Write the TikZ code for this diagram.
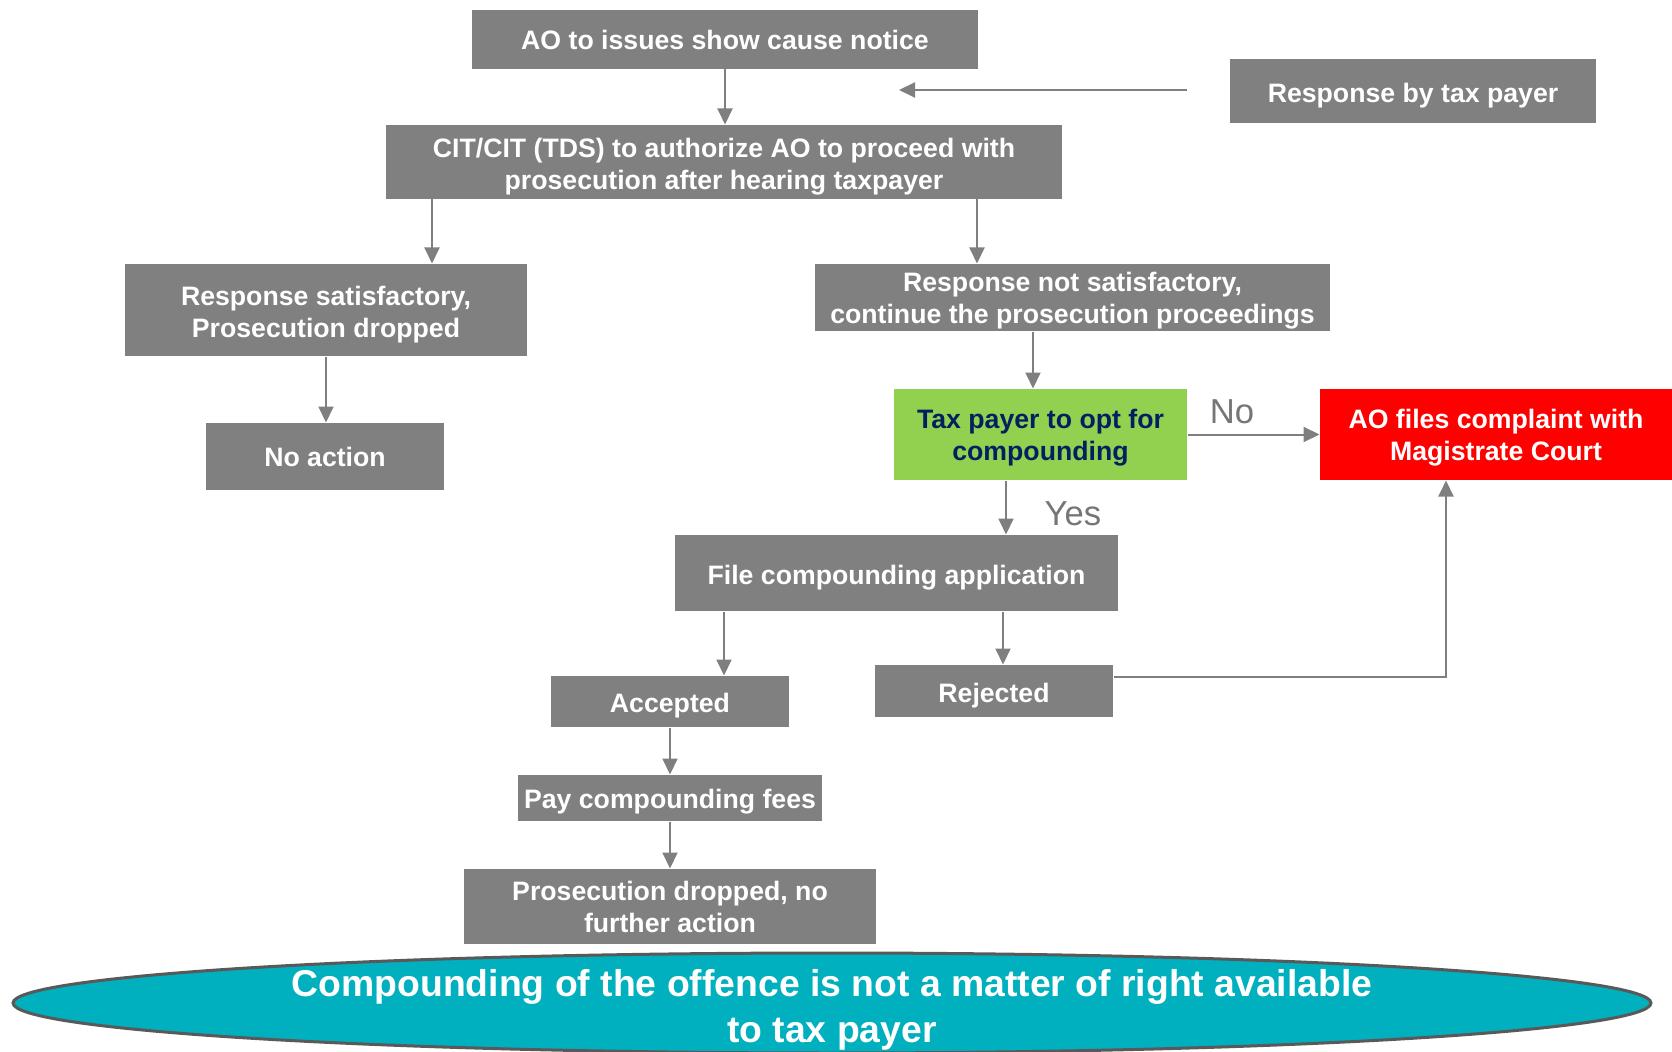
\documentclass[tikz,border=0pt]{standalone}
\usepackage{fontspec}
\setmainfont{Liberation Sans}
\usetikzlibrary{arrows.meta}

\definecolor{boxgray}{RGB}{128,128,128}
\definecolor{linegray}{RGB}{127,127,127}
\definecolor{optgreen}{RGB}{146,208,80}
\definecolor{optnavy}{RGB}{0,32,96}
\definecolor{courtred}{RGB}{255,0,0}
\definecolor{notecyan}{RGB}{0,176,190}
\definecolor{noteedge}{RGB}{89,89,89}
\definecolor{lblgray}{RGB}{118,118,118}

% strut that pushes the first line of a box down a little
\newcommand{\topstrut}[1][21.4pt]{\rule{0pt}{#1}}

\tikzset{every picture/.style={line width=0.75pt}}
\tikzset{
  box/.style={fill=boxgray, text=white, font=\fontsize{20}{24}\selectfont\bfseries, align=center, inner sep=0pt},
  arr/.style={draw=linegray, line width=1.5pt, -{Triangle[length=12pt,width=11.25pt]}},
  lbl/.style={text=lblgray, font=\fontsize{26}{31}\selectfont},
  note/.style={fill=notecyan, draw=noteedge, line width=2.25pt},
  notetext/.style={text=white, font=\fontsize{28}{34}\selectfont\bfseries, align=center},
}

\begin{document}
\begin{tikzpicture}[x=0.75pt,y=0.75pt,yscale=-1,xscale=1]
	\useasboundingbox (0,0) rectangle (1672,1052);

	% Boxes
	\node[box, minimum width=379.5pt, minimum height=44.25pt] (notice) at (725,39.5) {AO to issues show cause notice};
	\node[box, minimum width=274.5pt, minimum height=48pt] (resp) at (1413,91) {\topstrut Response by tax payer};
	\node[box, minimum width=507pt, minimum height=55.5pt] (cit) at (724,162) {\topstrut CIT/CIT (TDS) to authorize AO to proceed with\\prosecution after hearing taxpayer};
	\node[box, minimum width=301.5pt, minimum height=69pt] (sat) at (326,310) {\topstrut Response satisfactory,\\Prosecution dropped};
	\node[box, minimum width=386.25pt, minimum height=50.25pt] (notsat) at (1072.5,297.5) {\topstrut[19.9pt]Response not satisfactory,\\continue the prosecution proceedings};
	\node[box, minimum width=178.5pt, minimum height=50.25pt] (noact) at (325,456.5) {No action};
	\node[box, fill=optgreen, text=optnavy, minimum width=219.75pt, minimum height=68.25pt] (opt) at (1040.5,434.5) {\topstrut[19.9pt]Tax payer to opt for\\compounding};
	\node[box, fill=courtred, minimum width=264pt, minimum height=68.25pt] (court) at (1496,434.5) {\topstrut[19.9pt]AO files complaint with\\Magistrate Court};
	\node[box, minimum width=332.25pt, minimum height=57pt] (fileapp) at (896.5,573) {\topstrut File compounding application};
	\node[box, minimum width=178.5pt, minimum height=38.25pt] (acc) at (670,701.5) {\topstrut[19.9pt]Accepted};
	\node[box, minimum width=178.5pt, minimum height=39pt] (rej) at (994,691) {\topstrut Rejected};
	\node[box, minimum width=228pt, minimum height=34.5pt] (pay) at (670,798) {\topstrut[19.9pt]Pay compounding fees};
	\node[box, minimum width=309pt, minimum height=56.25pt] (dropped) at (670,906.5) {Prosecution dropped, no\\further action};

	% Labels
	\node[lbl] (nolbl) at (1232,412) {No};
	\node[lbl] (yeslbl) at (1073,514) {Yes};

	% Connectors
	\coordinate (fbtail) at (1187,90);
	\coordinate (fbtip) at (899,90);
	\draw[arr] (fbtail) -- (fbtip);
	\draw[arr] (notice.south) -- (cit.north -| notice.south);
	\draw[arr] (cit.south -| 432,0) -- (sat.north -| 432,0);
	\draw[arr] (cit.south -| 977,0) -- (notsat.north -| 977,0);
	\draw[arr] (sat.south) -- (noact.north -| sat.south);
	\draw[arr] (notsat.south -| 1033,0) -- (opt.north -| 1033,0);
	\draw[arr] (opt.east) -- (court.west);
	\draw[arr] (opt.south -| 1006,0) -- (fileapp.north -| 1006,0);
	\draw[arr] (fileapp.south -| 724,0) -- (acc.north -| 724,0);
	\draw[arr] (fileapp.south -| 1003,0) -- (rej.north -| 1003,0);
	\draw[arr] (rej.east |- 0,677) -| (court.south -| 1446,0);
	\draw[arr] (acc.south) -- (pay.north);
	\draw[arr] (pay.south) -- (dropped.north);

	% Shape: Ellipse
	\draw[note] (832,1003) ellipse [x radius=819, y radius=50];
	\node[notetext] (remark) at (832,1010) {Compounding of the offence is not a matter of right available\\to tax payer};

\end{tikzpicture}
\end{document}
